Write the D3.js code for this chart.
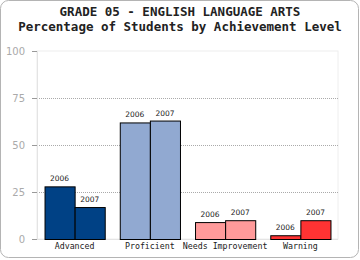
<!DOCTYPE html>
<html>
<head>
<meta charset="utf-8">
<script src="https://d3js.org/d3.v7.min.js"></script>
<style>
  body { margin: 0; background: #fff; }
  .titulo { font: bold 12.5px "DejaVu Sans Mono", monospace; fill: #222; text-anchor: middle; }
  .cat { font: 8.3px "DejaVu Sans Mono", monospace; fill: #222; text-anchor: middle; }
  .val { font: 7.5px "DejaVu Sans", sans-serif; fill: #222; text-anchor: middle; }
  .ytick { font: 10px "DejaVu Sans", sans-serif; fill: #aaa; text-anchor: end; }
</style>
</head>
<body>
<div id="chart"></div>
<script>
"use strict"
// dados
var categorias = ["Advanced", "Proficient", "Needs Improvement", "Warning"];
var anos = ["2006", "2007"];
var valores2006 = [28, 62, 9, 2];
var valores2007 = [17, 63, 10, 10];
var cores = ["#004185", "#91a9d1", "#ff9a9a", "#ff3333"];
var ticksY = [0, 25, 50, 75, 100];

var W = 360, H = 260;
var margin = {top: 51, right: 22, bottom: 21, left: 37};
var largura = W - margin.left - margin.right,
    altura = H - margin.top - margin.bottom;

var svg = d3.select("#chart").append("svg")
  .attr("width", W).attr("height", H);

// moldura arredondada
svg.append("rect")
  .attr("x", 0.5).attr("y", 0.5).attr("width", 358).attr("height", 257)
  .attr("rx", 8).attr("fill", "none").attr("stroke", "#b4b4b4");

svg.append("text").attr("class", "titulo").attr("x", 180).attr("y", 16)
  .text("GRADE 05 - ENGLISH LANGUAGE ARTS");
svg.append("text").attr("class", "titulo").attr("x", 180).attr("y", 30.8)
  .text("Percentage of Students by Achievement Level");

var g = svg.append("g").attr("transform", "translate(" + margin.left + "," + margin.top + ")");

var x = d3.scaleBand().domain(categorias).range([0, largura]).paddingInner(0.2).paddingOuter(0.1);
var xAno = d3.scaleBand().domain(anos).range([0, x.bandwidth()]);
var y = d3.scaleLinear().domain([0, 100]).range([altura, 0]);

// borda da area do grafico
g.append("rect").attr("x", 0).attr("y", 0).attr("width", largura).attr("height", altura)
  .attr("fill", "none").attr("stroke", "#eee");

// grade pontilhada
g.selectAll(".grade").data(ticksY.filter(d => d > 0 && d < 100)).enter()
  .append("line")
  .attr("x1", 0).attr("x2", largura)
  .attr("y1", d => Math.round(y(d)) + 0.5).attr("y2", d => Math.round(y(d)) + 0.5)
  .attr("stroke", "#aaa").attr("stroke-dasharray", "1,1");

// eixo y
var eixoY = g.append("g").call(d3.axisLeft(y).tickValues(ticksY).tickSize(5).tickPadding(7));
eixoY.select(".domain").attr("stroke", "#e4e4e4");
eixoY.selectAll(".tick line").attr("stroke", "#999");
eixoY.selectAll(".tick text").attr("class", "ytick").attr("fill", null).attr("font-size", null).attr("font-family", null);

g.append("line").attr("x1", 0).attr("x2", largura)
  .attr("y1", altura + 0.5).attr("y2", altura + 0.5).attr("stroke", "#e4e4e4");

var series = [valores2006, valores2007];
categorias.forEach(function(c, i) {
  anos.forEach(function(a, j) {
    var v = series[j][i];
    var bx = x(c) + xAno(a);
    g.append("rect")
      .attr("x", bx + 0.5).attr("y", y(v) + 0.5)
      .attr("width", xAno.bandwidth()).attr("height", altura - y(v))
      .attr("fill", cores[i]).attr("stroke", "#000");
    g.append("text").attr("class", "val")
      .attr("x", bx + xAno.bandwidth() / 2).attr("y", y(v) - 5)
      .text(a);
  });
  g.append("text").attr("class", "cat")
    .attr("x", x(c) + x.bandwidth() / 2).attr("y", altura + 10)
    .text(c);
});
</script>
</body>
</html>
